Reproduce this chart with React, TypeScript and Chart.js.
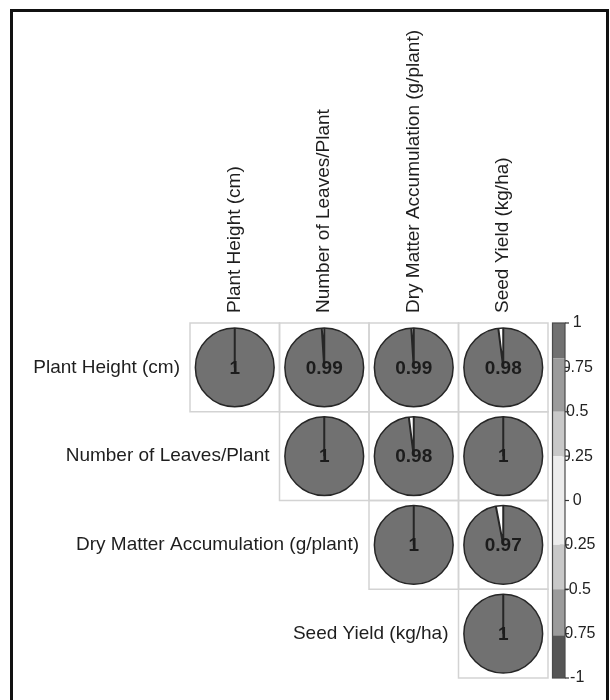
import React, { useEffect, useRef } from "react";
import { Chart, registerables } from "chart.js";

Chart.register(...registerables);

// ---- data ----
const variables = [
  "Plant Height (cm)",
  "Number of Leaves/Plant",
  "Dry Matter Accumulation (g/plant)",
  "Seed Yield (kg/ha)",
];
const rowPlantHeight = [1, 0.99, 0.99, 0.98];
const rowLeaves = [null, 1, 0.98, 1];
const rowDryMatter = [null, null, 1, 0.97];
const rowSeedYield = [null, null, null, 1];
const corrRows = [rowPlantHeight, rowLeaves, rowDryMatter, rowSeedYield];
const colorbarTicks = [1, 0.75, 0.5, 0.25, 0, -0.25, -0.5, -0.75, -1];
const bandEdges = [1, 0.8, 0.5, 0.25, -0.25, -0.5, -0.76, -1];
const bandColors = ["#717171", "#9b9b9b", "#c8c8c8", "#ececec", "#c8c8c8", "#9b9b9b", "#555555"];

const FONT = '"Liberation Sans", Arial, Helvetica, sans-serif';

function colorFor(v: number): string {
  for (let i = 0; i < bandColors.length; i++) {
    const hi = bandEdges[i];
    const lo = bandEdges[i + 1];
    if (v <= hi && v >= lo) return bandColors[i];
  }
  return bandColors[0];
}

function fmt(v: number): string {
  return String(Math.round(v * 100) / 100);
}

const corrPlugin = {
  id: "corrPies",
  beforeDatasetsDraw(chart: any) {
    const { ctx, chartArea, scales } = chart;
    const xS = scales.x;
    const yS = scales.y;
    const n = variables.length;
    const cw = (chartArea.right - chartArea.left) / n;
    const ch = (chartArea.bottom - chartArea.top) / n;
    const meta = chart.getDatasetMeta(0);
    ctx.save();
    // cell grid
    ctx.strokeStyle = "#d3d3d3";
    ctx.lineWidth = 1.5;
    meta.data.forEach((el: any) => {
      ctx.strokeRect(el.x - cw / 2, el.y - ch / 2, cw, ch);
    });
    // row labels next to diagonal
    ctx.font = `19px ${FONT}`;
    ctx.fillStyle = "#1e1e1e";
    ctx.textAlign = "right";
    ctx.textBaseline = "middle";
    variables.forEach((name, i) => {
      const x = xS.getPixelForValue(i) - cw / 2 - 10;
      const y = yS.getPixelForValue(i);
      ctx.fillText(name, x, y);
    });
    // column labels (rotated)
    ctx.textAlign = "left";
    variables.forEach((name, j) => {
      const x = xS.getPixelForValue(j);
      const y = chartArea.top - 10;
      ctx.save();
      ctx.translate(x, y);
      ctx.rotate(-Math.PI / 2);
      ctx.fillText(name, 0, 0);
      ctx.restore();
    });
    // colour bar
    const cb = scales.cb;
    const barL = chartArea.right + 4.5;
    const barW = 12.5;
    for (let i = 0; i < bandColors.length; i++) {
      const y1 = cb.getPixelForValue(bandEdges[i]);
      const y2 = cb.getPixelForValue(bandEdges[i + 1]);
      ctx.fillStyle = bandColors[i];
      ctx.fillRect(barL, y1, barW, y2 - y1);
    }
    const top = cb.getPixelForValue(1);
    const bot = cb.getPixelForValue(-1);
    ctx.strokeStyle = "#4a4a4a";
    ctx.lineWidth = 1.2;
    ctx.strokeRect(barL, top, barW, bot - top);
    ctx.strokeStyle = "#333";
    ctx.lineWidth = 1.2;
    colorbarTicks.forEach((t) => {
      const y = cb.getPixelForValue(t);
      ctx.beginPath();
      ctx.moveTo(barL + barW, y);
      ctx.lineTo(barL + barW + 4, y);
      ctx.stroke();
    });
    ctx.restore();
  },
  afterDatasetsDraw(chart: any) {
    const { ctx, chartArea } = chart;
    const n = variables.length;
    const cw = (chartArea.right - chartArea.left) / n;
    const R = cw * 0.44;
    const meta = chart.getDatasetMeta(0);
    const data = chart.data.datasets[0].data;
    ctx.save();
    meta.data.forEach((el: any, k: number) => {
      const v = data[k].v as number;
      const cx = el.x;
      const cy = el.y;
      const start = -Math.PI / 2;
      const end = start + v * 2 * Math.PI;
      ctx.beginPath();
      ctx.moveTo(cx, cy);
      ctx.arc(cx, cy, R, start, end, v < 0);
      ctx.closePath();
      ctx.fillStyle = colorFor(v);
      ctx.fill();
      ctx.beginPath();
      ctx.arc(cx, cy, R, 0, Math.PI * 2);
      ctx.strokeStyle = "#262626";
      ctx.lineWidth = 1.5;
      ctx.stroke();
      ctx.beginPath();
      ctx.moveTo(cx, cy - R);
      ctx.lineTo(cx, cy);
      ctx.lineTo(cx + R * Math.cos(end), cy + R * Math.sin(end));
      ctx.lineWidth = 2;
      ctx.stroke();
      ctx.font = `bold 19px ${FONT}`;
      ctx.fillStyle = "#1c1c1c";
      ctx.textAlign = "center";
      ctx.textBaseline = "middle";
      ctx.fillText(fmt(v), cx, cy + 1);
    });
    ctx.restore();
  },
  afterDraw(chart: any) {
    const { ctx } = chart;
    ctx.save();
    ctx.strokeStyle = "#111";
    ctx.lineWidth = 3;
    ctx.strokeRect(11.5, 10.5, 596, 740);
    ctx.restore();
  },
};

export default function App() {
  const ref = useRef<HTMLCanvasElement | null>(null);
  useEffect(() => {
    if (!ref.current) return;
    const points: any[] = [];
    corrRows.forEach((row, i) => {
      row.forEach((v, j) => {
        if (v !== null && v !== undefined) {
          points.push({ x: variables[j], y: variables[i], v });
        }
      });
    });
    const chart = new Chart(ref.current, {
      type: "scatter",
      data: {
        datasets: [
          {
            data: points,
            pointRadius: 0,
            pointHoverRadius: 0,
          },
        ],
      },
      options: {
        animation: false,
        responsive: false,
        events: [],
        layout: { padding: { left: 0, top: 0, right: 0, bottom: 22 } },
        plugins: { legend: { display: false }, tooltip: { enabled: false } },
        scales: {
          x: {
            type: "category",
            labels: variables,
            position: "top",
            offset: true,
            grid: { display: false, drawTicks: false },
            border: { display: false },
            ticks: { display: false },
            afterFit: (s: any) => {
              s.height = 323;
            },
          },
          y: {
            type: "category",
            labels: variables,
            position: "left",
            offset: true,
            grid: { display: false, drawTicks: false },
            border: { display: false },
            ticks: { display: false },
            afterFit: (s: any) => {
              s.width = 190;
            },
          },
          cb: {
            type: "linear",
            position: "right",
            min: -1,
            max: 1,
            grid: { display: false, drawTicks: false },
            border: { display: false },
            afterBuildTicks: (s: any) => {
              s.ticks = colorbarTicks.map((value) => ({ value }));
            },
            ticks: {
              crossAlign: "center",
              padding: 11,
              color: "#222",
              font: { family: FONT, size: 16 },
              callback: (v: any) => String(v),
            },
            afterFit: (s: any) => {
              s.width = 62;
            },
          },
        },
      } as any,
      plugins: [corrPlugin],
    });
    return () => chart.destroy();
  }, []);
  return (
    <div style={{ position: "fixed", left: 0, top: 0, width: 610, height: 700, background: "#fff" }}>
      <canvas ref={ref} width={610} height={700} style={{ display: "block" }} />
    </div>
  );
}
